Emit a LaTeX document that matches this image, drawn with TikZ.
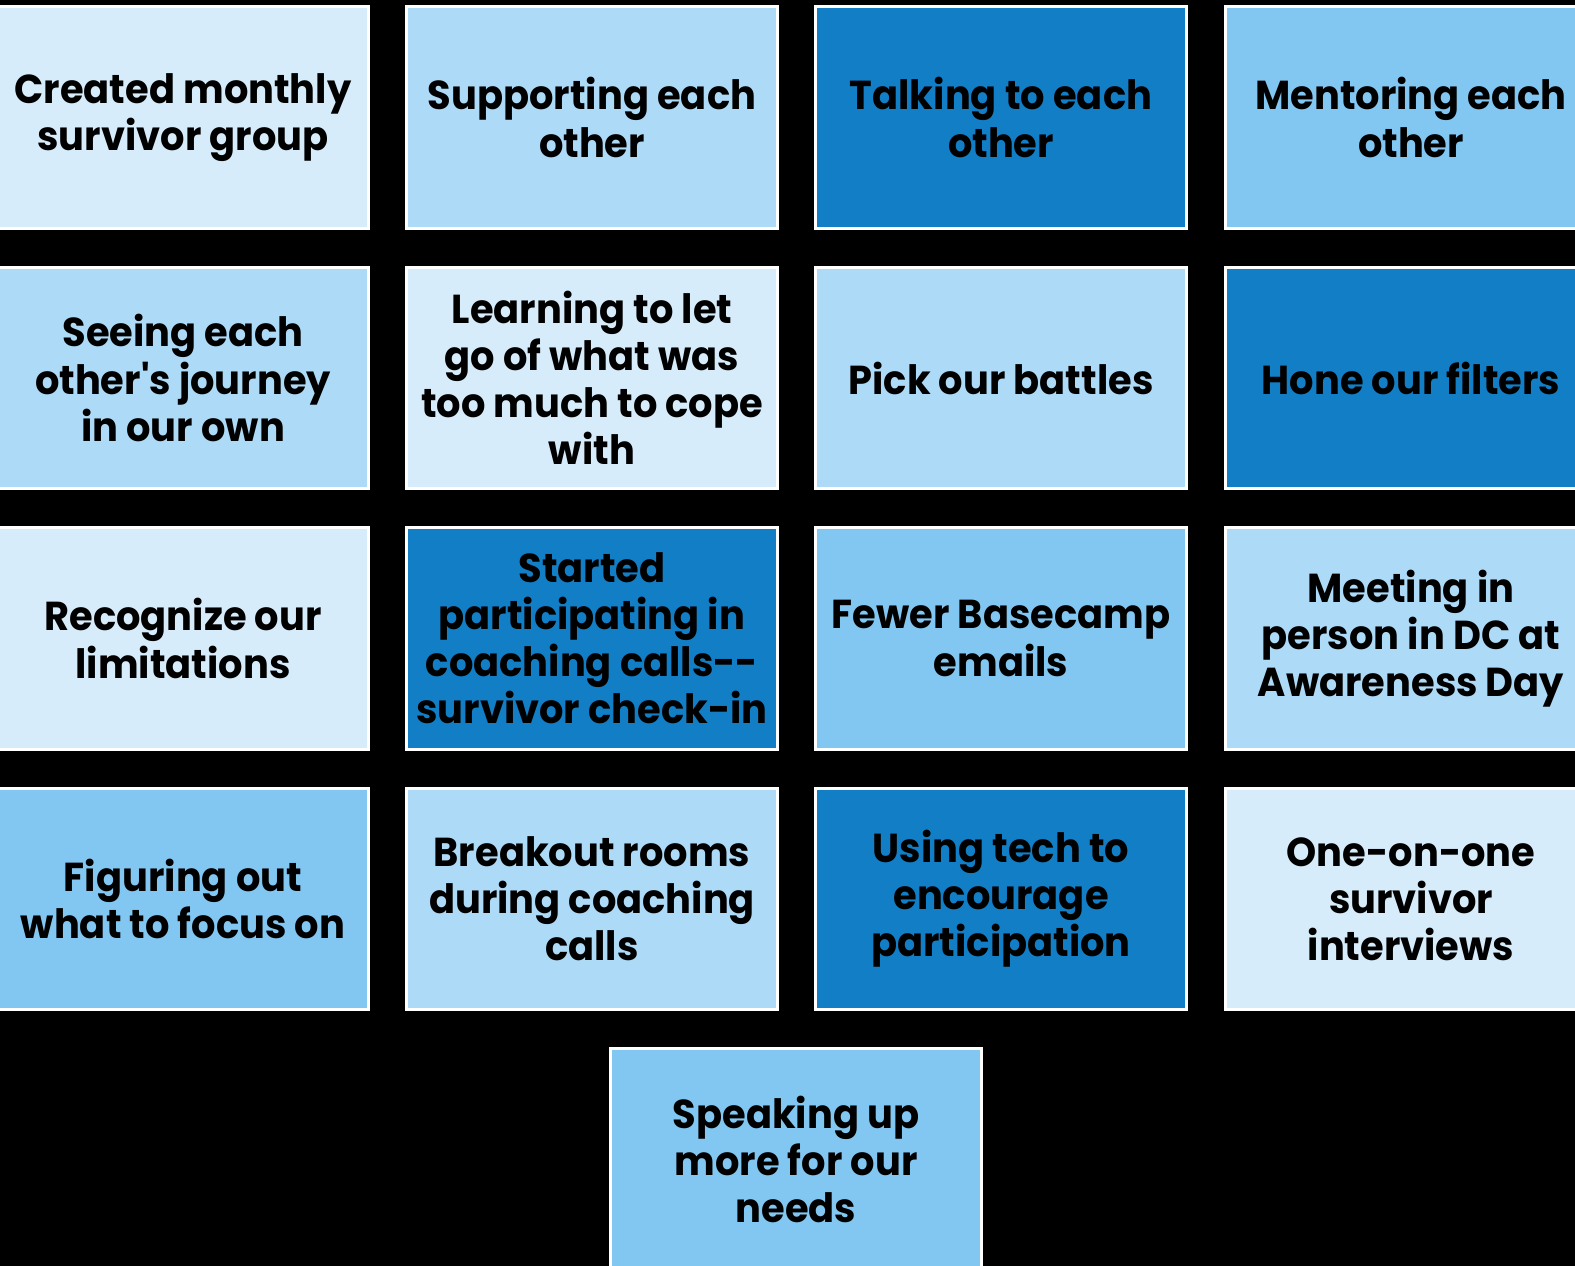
\documentclass[tikz,border=0pt]{standalone}
\usepackage{fontspec}
\usepackage{xcolor}
\newfontfamily\tilefont[FakeStretch=0.95]{Poppins}

\definecolor{tilelight}{HTML}{D6ECFB}
\definecolor{tilepale}{HTML}{ADDAF7}
\definecolor{tilemid}{HTML}{82C7F2}
\definecolor{tiledark}{HTML}{117EC6}

\tikzset{
    tile/.style={draw=white, line width=1.7pt, minimum width=7.42cm, minimum height=4.44cm,
        inner sep=0pt, align=center, text=black,
        font=\tilefont\bfseries\fontsize{23}{26.8}\selectfont},
}

\begin{document}
\begin{tikzpicture}[x=0.02cm,y=-0.02cm]
    % Background
    \useasboundingbox (0,0) rectangle (1575,1266);
    \clip (0,0) rectangle (1575,1266);
    \fill[black] (0,0) rectangle (1575,1266);

    % Row 1
    \node[tile, fill=tilelight] (monthly) at (183,117.5) {Created monthly\\survivor group};
    \node[tile, fill=tilepale] (supporting) at (592,117.5) {Supporting each\\other};
    \node[tile, fill=tiledark] (talking) at (1001,117.5) {Talking to each\\other};
    \node[tile, fill=tilemid] (mentoring) at (1411,117.5) {Mentoring each\\other};

    % Row 2
    \node[tile, fill=tilepale] (journey) at (183,378) {Seeing each\\other's journey\\in our own};
    \node[tile, fill=tilelight] (letgo) at (592,378) {Learning to let\\go of what was\\too much to cope\\with};
    \node[tile, fill=tilepale] (battles) at (1001,378) {Pick our battles};
    \node[tile, fill=tiledark] (filters) at (1411,378) {Hone our filters};

    % Row 3
    \node[tile, fill=tilelight] (limits) at (183,638.5) {Recognize our\\limitations};
    \node[tile, fill=tiledark] (checkin) at (592,638.5) {Started\\participating in\\coaching calls--\\survivor check-in};
    \node[tile, fill=tilemid] (basecamp) at (1001,638.5) {Fewer Basecamp\\emails};
    \node[tile, fill=tilepale] (inperson) at (1411,638.5) {Meeting in\\person in DC at\\Awareness Day};

    % Row 4
    \node[tile, fill=tilemid] (focus) at (183,899) {Figuring out\\what to focus on};
    \node[tile, fill=tilepale] (breakout) at (592,899) {Breakout rooms\\during coaching\\calls};
    \node[tile, fill=tiledark] (tech) at (1001,899) {Using tech to\\encourage\\participation};
    \node[tile, fill=tilelight] (interviews) at (1411,899) {One-on-one\\survivor\\interviews};

    % Last one
    \node[tile, fill=tilemid] (speaking) at (796,1159.5) {Speaking up\\more for our\\needs};
\end{tikzpicture}
\end{document}
